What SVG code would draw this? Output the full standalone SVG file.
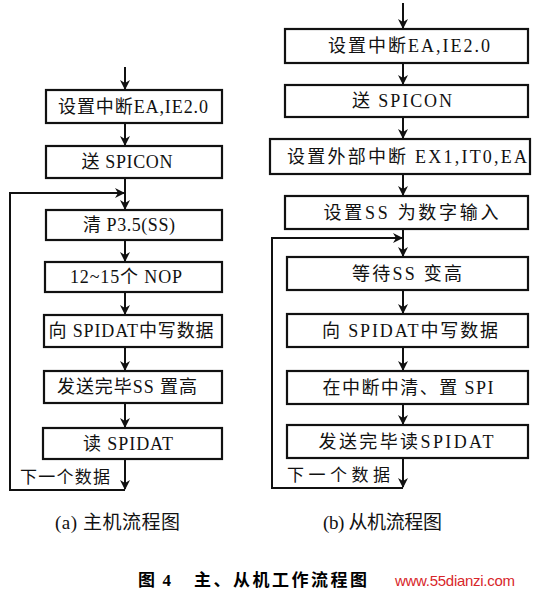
<svg xmlns="http://www.w3.org/2000/svg" width="549" height="597" viewBox="0 0 549 597">
<style>
.box{fill:#fff;stroke:#111;stroke-width:2.2}
.t{font-family:"Liberation Serif","Noto Sans CJK SC",serif;font-size:18px;fill:#111;text-anchor:middle}
.c{stroke:#111;stroke-width:2;fill:none}
.lbl{font-family:"Liberation Serif","Noto Sans CJK SC",serif;font-size:17px;fill:#111}
.cap{font-family:"Liberation Serif","Noto Sans CJK SC",serif;font-size:19px;fill:#111}
.title{font-family:"Liberation Serif","Noto Sans CJK SC",serif;font-size:17px;font-weight:bold;fill:#000}
.wm{font-family:"Liberation Sans",Arial,sans-serif;font-size:15px;fill:#d8262a}
</style>
<defs>
<marker id="ah" markerWidth="10" markerHeight="12" refX="9" refY="5" orient="auto" markerUnits="userSpaceOnUse">
<path d="M0,0 L10,5 L0,10 L3,5 Z" fill="#111"/>
</marker>
</defs>
<g id="connectors">
<line class="c" x1="125" y1="67" x2="125" y2="89" marker-end="url(#ah)"/>
<line class="c" x1="125" y1="123" x2="125" y2="145" marker-end="url(#ah)"/>
<line class="c" x1="125" y1="178" x2="125" y2="209" marker-end="url(#ah)"/>
<line class="c" x1="125" y1="240" x2="125" y2="261" marker-end="url(#ah)"/>
<line class="c" x1="125" y1="292" x2="125" y2="314" marker-end="url(#ah)"/>
<line class="c" x1="125" y1="347" x2="125" y2="370" marker-end="url(#ah)"/>
<line class="c" x1="125" y1="403" x2="125" y2="427" marker-end="url(#ah)"/>
<line class="c" x1="125" y1="459" x2="125" y2="489" marker-end="url(#ah)"/>
<polyline class="c" points="125,490 10,490 10,193 124,193" marker-end="url(#ah)"/>
<line class="c" x1="403" y1="3" x2="403" y2="28" marker-end="url(#ah)"/>
<line class="c" x1="403" y1="63" x2="403" y2="84" marker-end="url(#ah)"/>
<line class="c" x1="403" y1="117" x2="403" y2="138" marker-end="url(#ah)"/>
<line class="c" x1="403" y1="174" x2="403" y2="195" marker-end="url(#ah)"/>
<line class="c" x1="403" y1="229" x2="403" y2="256" marker-end="url(#ah)"/>
<line class="c" x1="403" y1="290" x2="403" y2="313" marker-end="url(#ah)"/>
<line class="c" x1="403" y1="347" x2="403" y2="370" marker-end="url(#ah)"/>
<line class="c" x1="403" y1="404" x2="403" y2="424" marker-end="url(#ah)"/>
<line class="c" x1="403" y1="458" x2="403" y2="487" marker-end="url(#ah)"/>
<polyline class="c" points="403,488 272,488 272,238 402,238" marker-end="url(#ah)"/>
</g>
<g id="m1"><rect class="box" x="46" y="90" width="176" height="33"/><text class="t" x="133" y="113" textLength="150" lengthAdjust="spacing">设置中断EA,IE2.0</text></g>
<g id="m2"><rect class="box" x="46" y="146" width="176" height="32"/><text class="t" x="127" y="168" textLength="91" lengthAdjust="spacing">送 SPICON</text></g>
<g id="m3"><rect class="box" x="46" y="210" width="176" height="30"/><text class="t" x="129" y="231" textLength="92" lengthAdjust="spacing">清 P3.5(SS)</text></g>
<g id="m4"><rect class="box" x="45" y="262" width="177" height="30"/><text class="t" x="126" y="283" textLength="112" lengthAdjust="spacing">12~15个 NOP</text></g>
<g id="m5"><rect class="box" x="44" y="315" width="178" height="32"/><text class="t" x="131" y="337" textLength="165" lengthAdjust="spacing">向 SPIDAT中写数据</text></g>
<g id="m6"><rect class="box" x="44" y="371" width="178" height="32"/><text class="t" x="127" y="393" textLength="140" lengthAdjust="spacing">发送完毕SS 置高</text></g>
<g id="m7"><rect class="box" x="43" y="428" width="179" height="31"/><text class="t" x="128" y="450" textLength="90" lengthAdjust="spacing">读 SPIDAT</text></g>
<text class="lbl" x="20" y="483" textLength="90" lengthAdjust="spacing">下一个数据</text>
<g id="s1"><rect class="box" x="285" y="29" width="243" height="34"/><text class="t" x="409" y="52" textLength="162" lengthAdjust="spacing">设置中断EA,IE2.0</text></g>
<g id="s2"><rect class="box" x="285" y="85" width="243" height="32"/><text class="t" x="402" y="107" textLength="100" lengthAdjust="spacing">送 SPICON</text></g>
<g id="s3"><rect class="box" x="270" y="139" width="260" height="35"/><text class="t" x="407" y="163" textLength="240" lengthAdjust="spacing">设置外部中断 EX1,IT0,EA</text></g>
<g id="s4"><rect class="box" x="285" y="196" width="243" height="33"/><text class="t" x="411" y="219" textLength="175" lengthAdjust="spacing">设置SS 为数字输入</text></g>
<g id="s5"><rect class="box" x="287" y="257" width="241" height="33"/><text class="t" x="407" y="280" textLength="110" lengthAdjust="spacing">等待SS 变高</text></g>
<g id="s6"><rect class="box" x="287" y="314" width="241" height="33"/><text class="t" x="410" y="337" textLength="176" lengthAdjust="spacing">向 SPIDAT中写数据</text></g>
<g id="s7"><rect class="box" x="287" y="371" width="241" height="33"/><text class="t" x="408" y="394" textLength="171" lengthAdjust="spacing">在中断中清、置 SPI</text></g>
<g id="s8"><rect class="box" x="287" y="425" width="241" height="33"/><text class="t" x="406" y="448" textLength="175" lengthAdjust="spacing">发送完毕读SPIDAT</text></g>
<text class="lbl" x="287" y="481" textLength="103" lengthAdjust="spacing">下一个数据</text>
<text class="cap" x="55" y="529" textLength="125" lengthAdjust="spacing">(a) 主机流程图</text>
<text class="cap" x="323" y="529" textLength="119" lengthAdjust="spacing">(b) 从机流程图</text>
<text class="title" x="138" y="586" textLength="33" lengthAdjust="spacing">图 4</text>
<text class="title" x="194" y="586" textLength="173" lengthAdjust="spacing">主、从机工作流程图</text>
<text class="wm" x="395" y="586" textLength="120" lengthAdjust="spacing">www.55dianzi.com</text>
</svg>
